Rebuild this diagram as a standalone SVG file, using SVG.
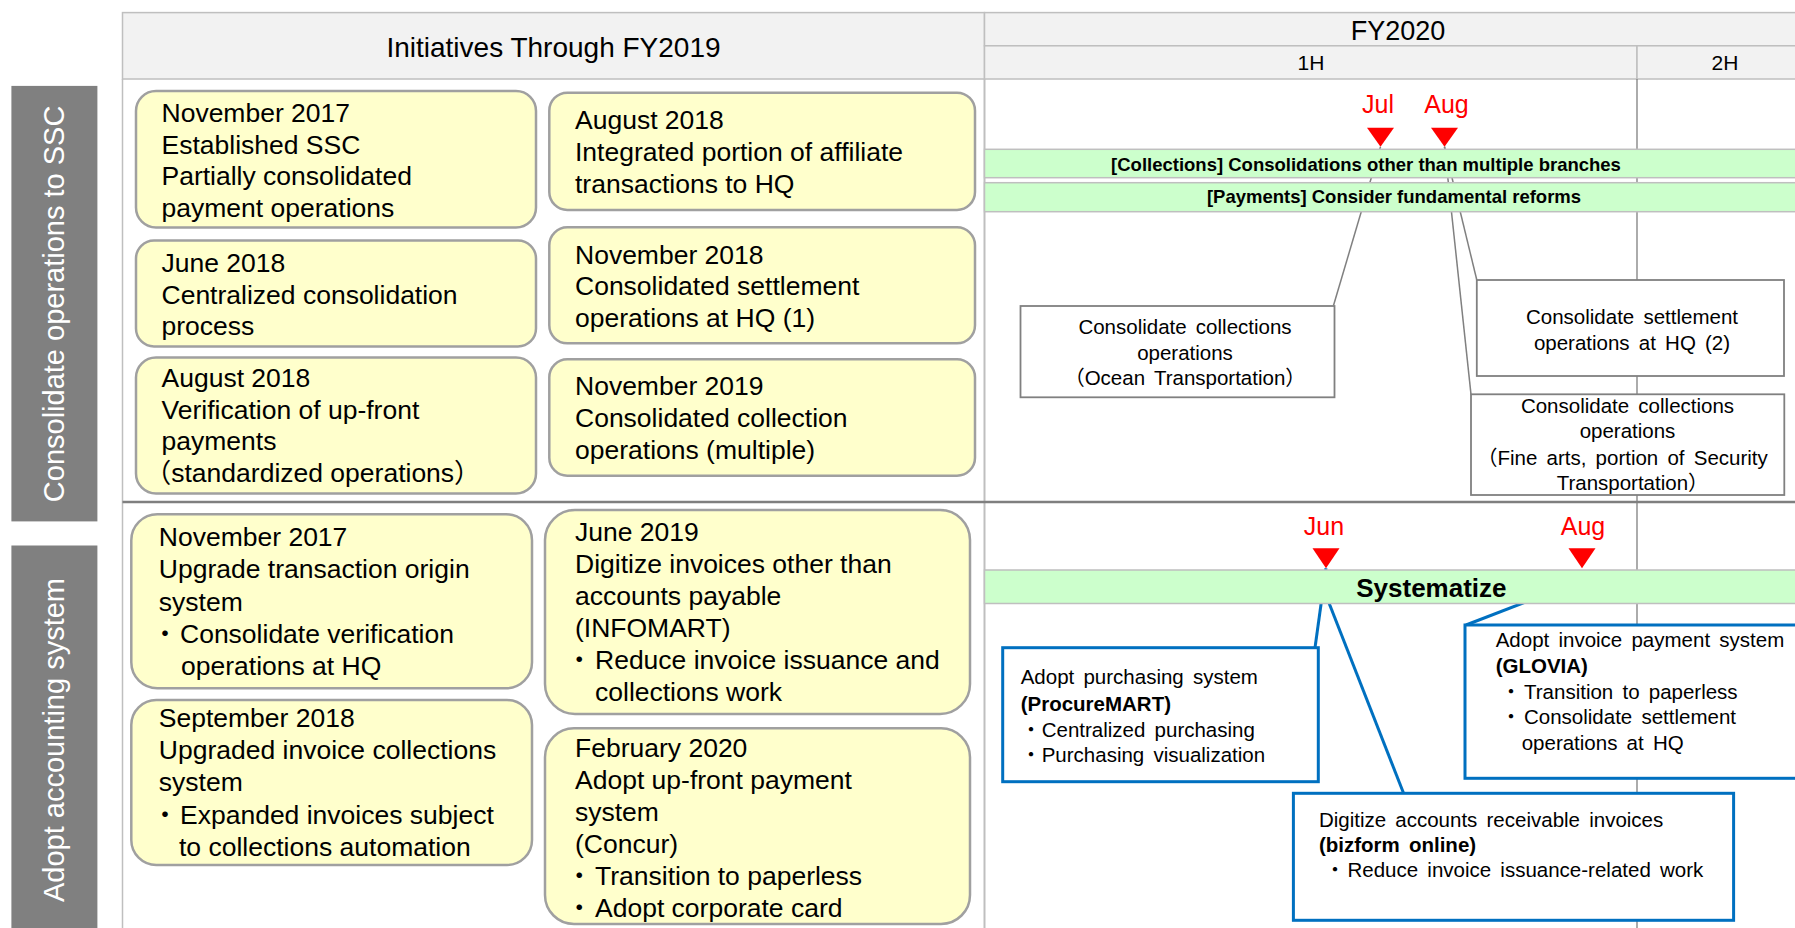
<svg xmlns="http://www.w3.org/2000/svg" width="1795" height="928" viewBox="0 0 1795 928" font-family="'Liberation Sans', Arial, 'Noto Sans CJK JP', sans-serif">
<style>
.hdr{fill:#f2f2f2;stroke:#bfbfbf;stroke-width:1.5}
.lbl rect{fill:#808080}
.lbl text{fill:#ffffff;font-size:29px}
.yb rect{fill:#ffffcc;stroke:#a0a0a0;stroke-width:2.5}
.yb text{font-size:26.5px;fill:#000}
.gb rect{fill:#ccffcc;stroke:#bfbfbf;stroke-width:1.5}
.gb text{font-weight:bold;fill:#000}
.wb rect{fill:#ffffff;stroke:#808080;stroke-width:1.8}
.bb rect{fill:#ffffff;stroke:#0070c0;stroke-width:3}
.ct text{font-size:20.5px;word-spacing:3.5px;fill:#000}
.mo{fill:#ff0000;font-size:25px}
.tri{fill:#ff0000}
.cg{stroke:#808080;stroke-width:1.5;fill:none}
.cb{stroke:#0070c0;stroke-width:3;fill:none}
.h{font-feature-settings:"halt"}
.b{font-weight:bold}
</style>
<rect x="0" y="0" width="1795" height="928" fill="#ffffff"/>

<g id="header">
<rect class="hdr" x="122.5" y="12.6" width="862" height="66.4"/>
<rect class="hdr" x="984.5" y="12.6" width="830" height="33.2"/>
<rect class="hdr" x="984.5" y="45.8" width="652.5" height="33.2"/>
<rect class="hdr" x="1637" y="45.8" width="178" height="33.2"/>
<text x="553.5" y="57.3" font-size="28" text-anchor="middle">Initiatives Through FY2019</text>
<text x="1398" y="40" font-size="27" text-anchor="middle">FY2020</text>
<text x="1311" y="70" font-size="21" text-anchor="middle">1H</text>
<text x="1725" y="70" font-size="21" text-anchor="middle">2H</text>
</g>

<g id="grid">
<line x1="122.5" y1="79" x2="122.5" y2="928" stroke="#bfbfbf" stroke-width="1.5"/>
<line x1="984.5" y1="79" x2="984.5" y2="928" stroke="#bfbfbf" stroke-width="2"/>
<line x1="1637" y1="79" x2="1637" y2="928" stroke="#7f7f7f" stroke-width="1.3"/>
<line x1="122.5" y1="502" x2="1815" y2="502" stroke="#7f7f7f" stroke-width="2.5"/>
</g>

<g id="label-ssc" class="lbl">
<rect x="11.4" y="85.9" width="86" height="435.5"/>
<text transform="translate(63.5,303.9) rotate(-90)" text-anchor="middle">Consolidate operations to SSC</text>
</g>
<g id="label-acct" class="lbl">
<rect x="11.4" y="545.5" width="86" height="390"/>
<text transform="translate(63.5,740) rotate(-90)" text-anchor="middle">Adopt accounting system</text>
</g>

<g id="connectors">
<path class="cg" d="M1380.5,146.7 L1333.5,305.5"/>
<path class="cg" d="M1444.5,146.7 L1471,394.3"/>
<path class="cg" d="M1444.5,146.7 L1476.8,280"/>
<path class="cb" d="M1326,568.3 L1315,647.7"/>
<path class="cb" d="M1320,580 L1403.6,793.3"/>
<path class="cb" d="M1540,596.4 L1466,625"/>
</g>

<g id="bar-collections" class="gb">
<rect x="984.5" y="149.3" width="830" height="28.4"/>
<text x="1366" y="170.5" font-size="18.5" text-anchor="middle">[Collections] Consolidations other than multiple branches</text>
</g>
<g id="bar-payments" class="gb">
<rect x="984.5" y="182.7" width="830" height="29"/>
<text x="1394" y="203.3" font-size="18.5" text-anchor="middle">[Payments] Consider fundamental reforms</text>
</g>
<g id="bar-systematize" class="gb">
<rect x="984.5" y="570" width="830" height="33.5"/>
<text x="1431.4" y="596.7" font-size="26" text-anchor="middle">Systematize</text>
</g>

<g id="marker-jul">
<text class="mo" x="1378" y="113.3" text-anchor="middle">Jul</text>
<polygon class="tri" points="1367,127.7 1394,127.7 1380.5,146.7"/>
</g>
<g id="marker-aug1">
<text class="mo" x="1446.5" y="113.3" text-anchor="middle">Aug</text>
<polygon class="tri" points="1431,127.7 1458,127.7 1444.5,146.7"/>
</g>
<g id="marker-jun">
<text class="mo" x="1324" y="535" text-anchor="middle">Jun</text>
<polygon class="tri" points="1312.5,548.3 1339.5,548.3 1326,568.3"/>
</g>
<g id="marker-aug2">
<text class="mo" x="1583" y="535" text-anchor="middle">Aug</text>
<polygon class="tri" points="1568.5,548.3 1595.5,548.3 1582,568.3"/>
</g>

<g id="box-ocean" class="wb ct">
<rect x="1020.5" y="306" width="314" height="91.3"/>
<text x="1185" y="334" text-anchor="middle">Consolidate collections</text>
<text x="1185" y="359.5" text-anchor="middle">operations</text>
<text class="h" x="1185" y="385" text-anchor="middle">（Ocean Transportation）</text>
</g>
<g id="box-settlement2" class="wb ct">
<rect x="1476.8" y="280" width="307.2" height="96"/>
<text x="1632" y="324" text-anchor="middle">Consolidate settlement</text>
<text x="1632" y="350" text-anchor="middle">operations at HQ (2)</text>
</g>
<g id="box-finearts" class="wb ct">
<rect x="1471" y="394.3" width="313.3" height="100.7"/>
<text x="1627.5" y="412.5" text-anchor="middle">Consolidate collections</text>
<text x="1627.5" y="438.3" text-anchor="middle">operations</text>
<text class="h" x="1627.5" y="464.5" text-anchor="middle">（Fine arts, portion of Security</text>
<text class="h" x="1627.5" y="490.3" text-anchor="middle">Transportation）</text>
</g>

<g id="box-procuremart" class="bb ct">
<rect x="1002.7" y="647.7" width="315.6" height="134"/>
<text x="1020.7" y="684">Adopt purchasing system</text>
<text class="b" x="1020.7" y="710.5">(ProcureMART)</text>
<text y="736.5"><tspan x="1020.8">・</tspan><tspan x="1041.7">Centralized purchasing</tspan></text>
<text y="762"><tspan x="1020.8">・</tspan><tspan x="1041.7">Purchasing visualization</tspan></text>
</g>
<g id="box-bizform" class="bb ct">
<rect x="1293.4" y="793.3" width="440.2" height="127"/>
<text x="1318.9" y="826.5">Digitize accounts receivable invoices</text>
<text class="b" x="1318.9" y="851.5">(bizform online)</text>
<text y="877.3"><tspan x="1324.8">・</tspan><tspan x="1347.5">Reduce invoice issuance-related work</tspan></text>
</g>
<g id="box-glovia" class="bb ct">
<rect x="1465" y="625" width="360" height="153.3"/>
<text x="1495.7" y="647.3">Adopt invoice payment system</text>
<text class="b" x="1495.7" y="673.3">(GLOVIA)</text>
<text y="698.5"><tspan x="1500.8">・</tspan><tspan x="1524">Transition to paperless</tspan></text>
<text y="724"><tspan x="1500.8">・</tspan><tspan x="1524">Consolidate settlement</tspan></text>
<text x="1521.7" y="749.5">operations at HQ</text>
</g>

<g id="a1" class="yb">
<rect x="136" y="91" width="400" height="136.5" rx="20"/>
<text x="161.5" y="121.7">November 2017</text>
<text x="161.5" y="153.5">Established SSC</text>
<text x="161.5" y="185.3">Partially consolidated</text>
<text x="161.5" y="217">payment operations</text>
</g>
<g id="a2" class="yb">
<rect x="136" y="240.5" width="400" height="106" rx="18"/>
<text x="161.5" y="271.7">June 2018</text>
<text x="161.5" y="303.5">Centralized consolidation</text>
<text x="161.5" y="335">process</text>
</g>
<g id="a3" class="yb">
<rect x="136" y="357.5" width="400" height="136" rx="20"/>
<text x="161.5" y="386.8">August 2018</text>
<text x="161.5" y="418.6">Verification of up-front</text>
<text x="161.5" y="450.4">payments</text>
<text class="h" x="158" y="482.2">（standardized operations）</text>
</g>
<g id="b1" class="yb">
<rect x="549.3" y="92.7" width="425.7" height="117.3" rx="18"/>
<text x="575" y="128.5">August 2018</text>
<text x="575" y="160.5">Integrated portion of affiliate</text>
<text x="575" y="192.5">transactions to HQ</text>
</g>
<g id="b2" class="yb">
<rect x="549.3" y="227.3" width="425.7" height="116" rx="18"/>
<text x="575" y="263.5">November 2018</text>
<text x="575" y="295.3">Consolidated settlement</text>
<text x="575" y="327">operations at HQ (1)</text>
</g>
<g id="b3" class="yb">
<rect x="549.3" y="359.3" width="425.7" height="116.4" rx="18"/>
<text x="575" y="394.8">November 2019</text>
<text x="575" y="426.8">Consolidated collection</text>
<text x="575" y="458.8">operations (multiple)</text>
</g>
<g id="c1" class="yb">
<rect x="131.3" y="514.3" width="400.7" height="174" rx="26"/>
<text x="158.8" y="546.2">November 2017</text>
<text x="158.8" y="578.4">Upgrade transaction origin</text>
<text x="158.8" y="610.6">system</text>
<text y="642.8"><tspan x="151.8">・</tspan><tspan x="180">Consolidate verification</tspan></text>
<text x="181" y="675">operations at HQ</text>
</g>
<g id="c2" class="yb">
<rect x="131.3" y="700" width="400.7" height="165" rx="25"/>
<text x="158.8" y="727">September 2018</text>
<text x="158.8" y="759.2">Upgraded invoice collections</text>
<text x="158.8" y="791.4">system</text>
<text y="823.6"><tspan x="151.8">・</tspan><tspan x="180">Expanded invoices subject</tspan></text>
<text x="179" y="855.8">to collections automation</text>
</g>
<g id="d1" class="yb">
<rect x="545" y="510" width="425" height="204" rx="30"/>
<text x="575" y="541">June 2019</text>
<text x="575" y="573">Digitize invoices other than</text>
<text x="575" y="605">accounts payable</text>
<text x="575" y="637">(INFOMART)</text>
<text y="669"><tspan x="566">・</tspan><tspan x="595">Reduce invoice issuance and</tspan></text>
<text x="595" y="701">collections work</text>
</g>
<g id="d2" class="yb">
<rect x="545" y="728.3" width="425" height="195.7" rx="29"/>
<text x="575" y="756.5">February 2020</text>
<text x="575" y="788.5">Adopt up-front payment</text>
<text x="575" y="820.5">system</text>
<text x="575" y="852.5">(Concur)</text>
<text y="884.5"><tspan x="566">・</tspan><tspan x="595">Transition to paperless</tspan></text>
<text y="916.5"><tspan x="566">・</tspan><tspan x="595">Adopt corporate card</tspan></text>
</g>
</svg>
